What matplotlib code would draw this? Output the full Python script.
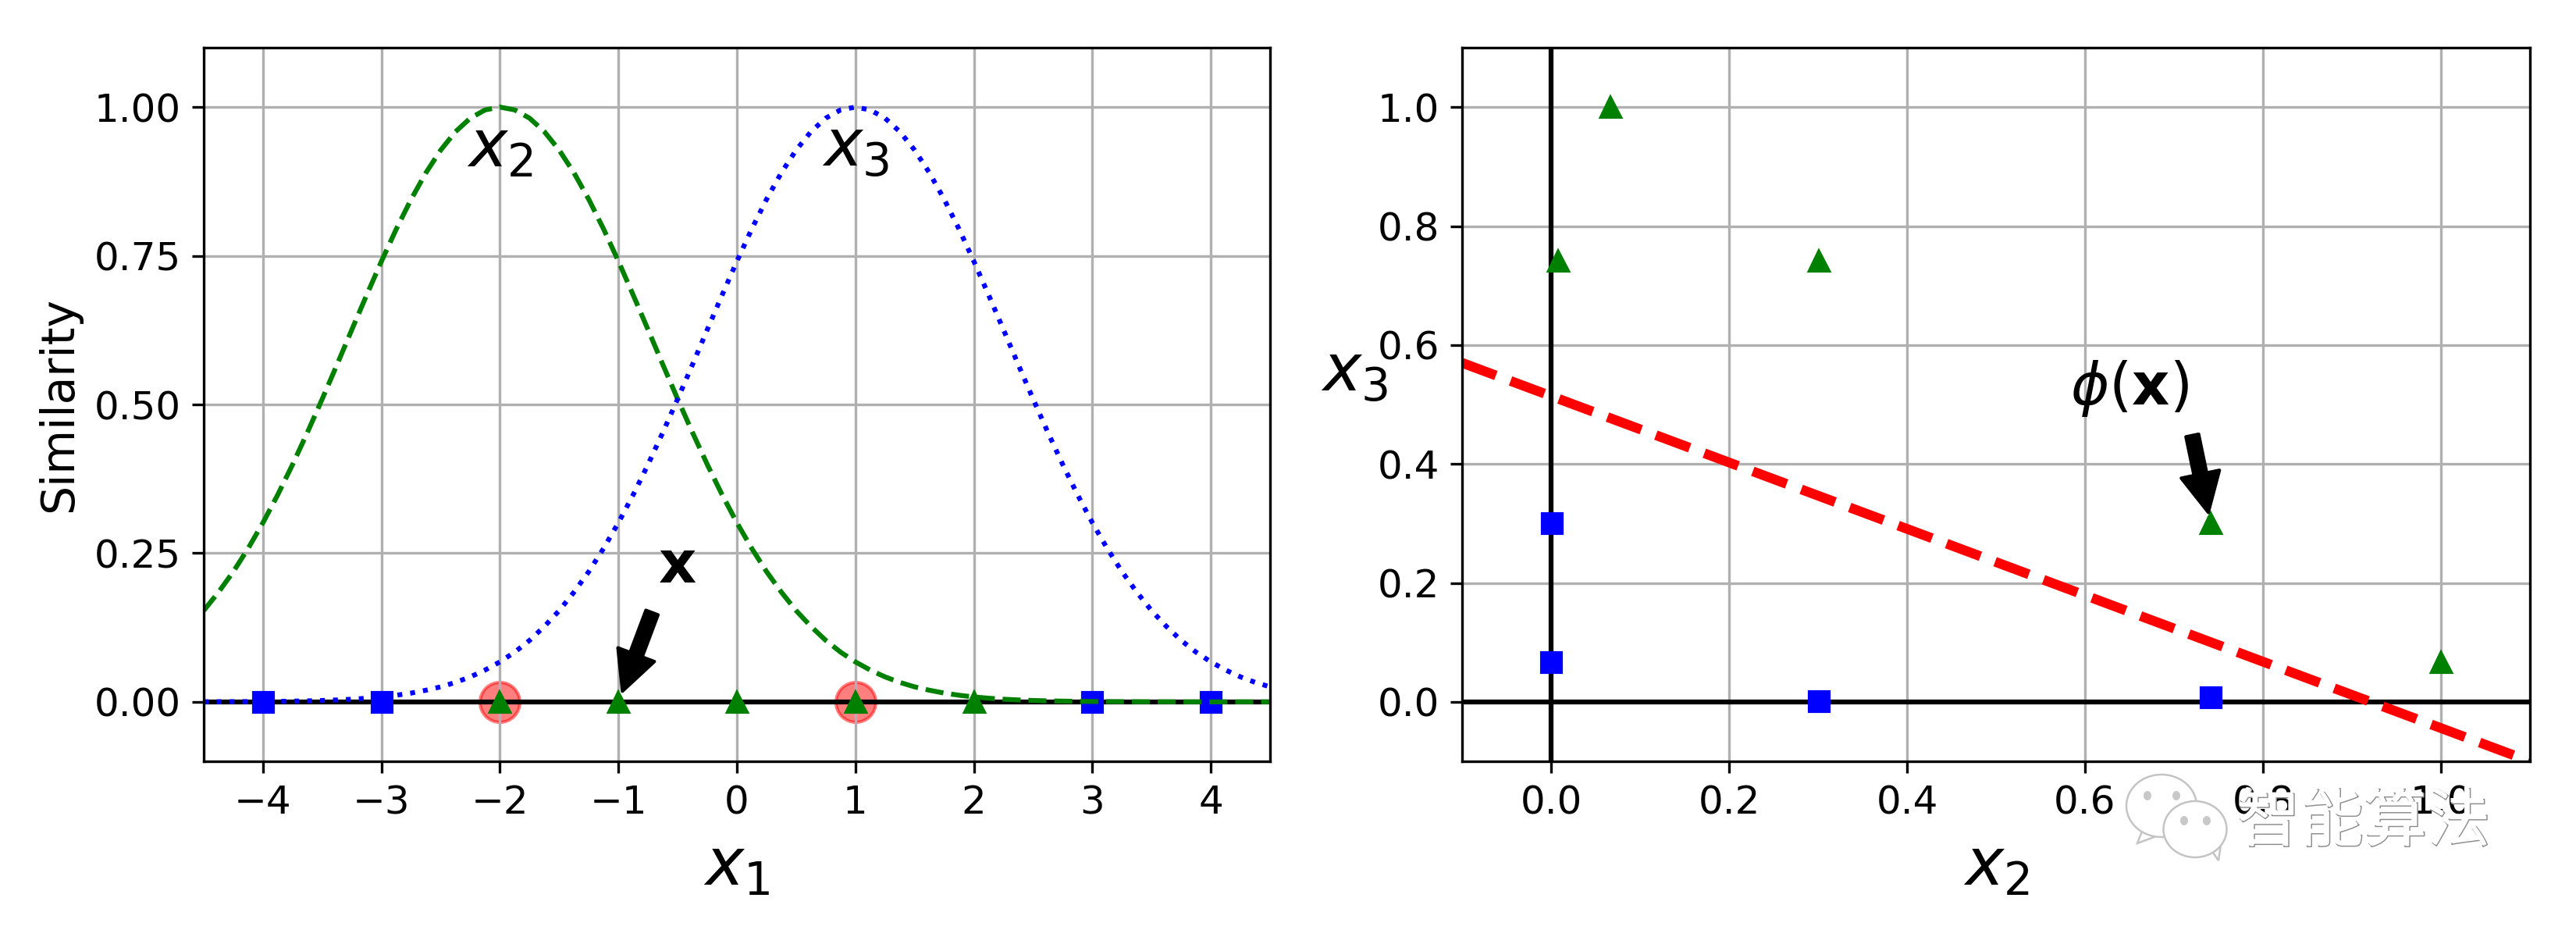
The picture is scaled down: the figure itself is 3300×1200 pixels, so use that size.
import matplotlib
matplotlib.use("Agg")
import matplotlib.pyplot as plt
import matplotlib.patheffects as pe
from matplotlib.patches import Ellipse, Polygon

plt.rcParams['font.family'] = ['DejaVu Sans']
plt.rcParams['axes.labelsize'] = 14
plt.rcParams['xtick.labelsize'] = 12
plt.rcParams['ytick.labelsize'] = 12

# Curves
curve_x = [
    -4.5, -4.375, -4.25, -4.125, -4.0, -3.875, -3.75, -3.625, -3.5, -3.375, -3.25, -3.125,
    -3.0, -2.875, -2.75, -2.625, -2.5, -2.375, -2.25, -2.125, -2.0, -1.875, -1.75, -1.625,
    -1.5, -1.375, -1.25, -1.125, -1.0, -0.875, -0.75, -0.625, -0.5, -0.375, -0.25, -0.125,
    0.0, 0.125, 0.25, 0.375, 0.5, 0.625, 0.75, 0.875, 1.0, 1.125, 1.25, 1.375,
    1.5, 1.625, 1.75, 1.875, 2.0, 2.125, 2.25, 2.375, 2.5, 2.625, 2.75, 2.875,
    3.0, 3.125, 3.25, 3.375, 3.5, 3.625, 3.75, 3.875, 4.0, 4.125, 4.25, 4.375, 4.5,
]
curve_x2 = [
    .1534, .1845, .2190, .2581, .3012, .3483, .3991, .4530, .5092, .5670, .6258, .6839,
    .7408, .7949, .8448, .8895, .9277, .9587, .9814, .9953, 1.0, .9953, .9814, .9587,
    .9277, .8895, .8448, .7949, .7408, .6839, .6258, .5670, .5092, .4530, .3991, .3483,
    .3012, .2581, .2190, .1845, .1534, .1268, .1033, .0836, .0672, .0535, .0420, .0327,
    .0252, .0195, .0147, .0111, .0082, .0061, .0044, .0032, .0023, .0016, .0012, .0008,
    .0006, .0004, .0003, .0002, .0001, .0001, 0, 0, 0, 0, 0, 0, 0,
]
curve_x3 = [
    .0001, .0002, .0003, .0004, .0006, .0008, .0012, .0016, .0023, .0032, .0044, .0061,
    .0082, .0111, .0147, .0195, .0252, .0327, .0420, .0535, .0672, .0836, .1033, .1268,
    .1534, .1845, .2190, .2581, .3012, .3483, .3991, .4530, .5092, .5670, .6258, .6839,
    .7408, .7949, .8448, .8895, .9277, .9587, .9814, .9953, 1.0, .9953, .9814, .9587,
    .9277, .8895, .8448, .7949, .7408, .6839, .6258, .5670, .5092, .4530, .3991, .3483,
    .3012, .2581, .2190, .1845, .1534, .1268, .1033, .0836, .0672, .0535, .0420, .0327, .0252,
]

# Left panel points
landmark_x = [-2, 1]
landmark_y = [0, 0]
blue_x1 = [-4, -3, 3, 4]
blue_y1 = [0, 0, 0, 0]
green_x1 = [-2, -1, 0, 1, 2]
green_y1 = [0, 0, 0, 0, 0]
left_xticks = [-4, -3, -2, -1, 0, 1, 2, 3, 4]
left_yticks = [0, 0.25, 0.50, 0.75, 1.0]

# Right panel points
blue_x2 = [0.301, 0.741, 0.0006, 0.0]
blue_x3 = [0.0006, 0.008, 0.301, 0.067]
green_x2 = [1.0, 0.741, 0.301, 0.067, 0.008]
green_x3 = [0.067, 0.301, 0.741, 1.0, 0.741]
boundary_x = [-0.1, 1.1]
boundary_y = [0.57, -0.1]
right_xticks = [0.0, 0.2, 0.4, 0.6, 0.8, 1.0]
right_yticks = [0.0, 0.2, 0.4, 0.6, 0.8, 1.0]

W, H = 3300, 1200
fig = plt.figure(figsize=(11, 4), dpi=300)


def axes_px(x0, x1, top, bottom):
    return fig.add_axes([x0 / W, 1 - bottom / H, (x1 - x0) / W, (bottom - top) / H])


ax1 = axes_px(261, 1627, 61, 975)
ax1.grid(True)
ax1.axhline(y=0, color='k')
ax1.scatter(landmark_x, landmark_y, s=150, alpha=0.5, c='red')
ax1.plot(blue_x1, blue_y1, 'bs')
ax1.plot(green_x1, green_y1, 'g^')
ax1.plot(curve_x, curve_x2, 'g--')
ax1.plot(curve_x, curve_x3, 'b:')
ax1.set_xticks(left_xticks)
ax1.set_yticks(left_yticks, ['0.00', '0.25', '0.50', '0.75', '1.00'])
ax1.set_xlabel(r'$x_1$', fontsize=20)
ax1.set_ylabel('Similarity')
ax1.annotate(r'$\mathbf{x}$', xy=(-1, 0), xytext=(-0.5, 0.20), ha='center',
             arrowprops=dict(facecolor='black', shrink=0.1), fontsize=18)
ax1.text(-2, 0.9, r'$x_2$', ha='center', fontsize=20)
ax1.text(1, 0.9, r'$x_3$', ha='center', fontsize=20)
ax1.axis([-4.5, 4.5, -0.1, 1.1])

ax2 = axes_px(1873, 3241, 61, 975)
ax2.grid(True)
ax2.axhline(y=0, color='k')
ax2.axvline(x=0, color='k')
ax2.plot(blue_x2, blue_x3, 'bs')
ax2.plot(green_x2, green_x3, 'g^')
ax2.set_xticks(right_xticks)
ax2.set_yticks(right_yticks)
ax2.set_xlabel(r'$x_2$', fontsize=20)
ax2.set_ylabel(r'$x_3$', fontsize=20, rotation=0, labelpad=7)
ax2.annotate(r'$\phi\left(\mathbf{x}\right)$', xy=(0.741, 0.301), xytext=(0.65, 0.50),
             ha='center', arrowprops=dict(facecolor='black', shrink=0.1), fontsize=18)
ax2.plot(boundary_x, boundary_y, 'r--', linewidth=3)
ax2.axis([-0.1, 1.1, -0.1, 1.1])

# Watermark
edge = '#c4c4c4'


def fx(px):
    return px / W


def fy(px):
    return 1 - px / H


def bubble(cx, cy, w, h, tail):
    fig.add_artist(Polygon([(fx(a), fy(b)) for a, b in tail], closed=True, transform=fig.transFigure,
                           facecolor='white', edgecolor=edge, linewidth=0.6, zorder=20))
    fig.add_artist(Ellipse((fx(cx), fy(cy)), w / W, h / H, transform=fig.transFigure,
                           facecolor='white', edgecolor=edge, linewidth=0.6, zorder=20))


bubble(2769, 1032, 90, 80, [(2745, 1062), (2738, 1080), (2765, 1070)])
for ex, ey in [(2751, 1019), (2788, 1019)]:
    fig.add_artist(Ellipse((fx(ex), fy(ey)), 10 / W, 12 / H, transform=fig.transFigure,
                           facecolor='#c8c8c8', edgecolor='none', zorder=21))
bubble(2812, 1062, 81, 72, [(2830, 1085), (2842, 1102), (2845, 1082)])
for ex, ey in [(2798, 1051), (2827, 1051)]:
    fig.add_artist(Ellipse((fx(ex), fy(ey)), 10 / W, 12 / H, transform=fig.transFigure,
                           facecolor='#c8c8c8', edgecolor='none', zorder=21))
fig.text(fx(3027), fy(1053), '智能算法', family=['Noto Sans CJK SC', 'DejaVu Sans'], fontsize=19.5,
         color='white', ha='center', va='center', zorder=22,
         path_effects=[pe.Stroke(linewidth=0.35, foreground='#8c8c8c', offset=(0.4, -0.4)), pe.Normal()])

fig.savefig('out.png', dpi=300)
